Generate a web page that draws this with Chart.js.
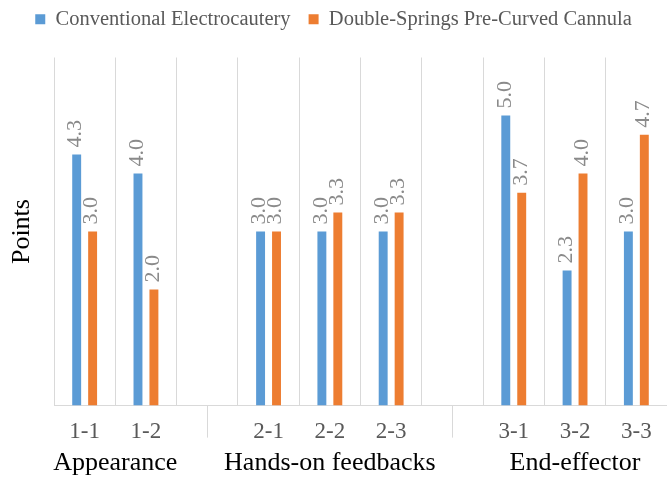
<!DOCTYPE html>
<html>
<head>
<meta charset="utf-8">
<script src="https://cdn.jsdelivr.net/npm/chart.js@4.4.1/dist/chart.umd.min.js"></script>
<style>
  html, body { margin: 0; padding: 0; background: #fff; }
  #wrap { width: 667px; height: 479px; }
</style>
</head>
<body>
<div id="wrap"><canvas id="pointsChart"></canvas></div>
<script>
const categories = ['1-1', '1-2', '', '2-1', '2-2', '2-3', '', '3-1', '3-2', '3-3'];
const conventional = [4.33, 4.0, null, 3.0, 3.0, 3.0, null, 5.0, 2.33, 3.0];
const doubleSprings = [3.0, 2.0, null, 3.0, 3.33, 3.33, null, 3.67, 4.0, 4.67];
const groupNames = ['Appearance', 'Hands-on feedbacks', 'End-effector'];
const groupStart = [0, 3, 7];
const groupEnd = [1, 5, 9];
const groupBreaks = [2, 6];
const yMax = 6;

const serif = "'Liberation Serif', 'Times New Roman', serif";
Chart.defaults.font.family = serif;

// extra room between legend and plot
const legendGap = {
    id: 'legendGap',
    beforeUpdate(chart) {
        const legend = chart.legend;
        if (!legend || legend._gapPatched) return;
        const fit = legend.fit;
        legend.fit = function () {
            fit.call(this);
            this.height += 18;
        };
        legend._gapPatched = true;
    }
};

// rotated value labels above each bar
const valueLabels = {
    id: 'valueLabels',
    afterDatasetsDraw(chart) {
        const ctx = chart.ctx;
        ctx.save();
        ctx.font = '22px ' + serif;
        ctx.fillStyle = '#8a8a8a';
        ctx.textAlign = 'left';
        ctx.textBaseline = 'middle';
        chart.data.datasets.forEach((ds, i) => {
            chart.getDatasetMeta(i).data.forEach((bar, j) => {
                const v = ds.data[j];
                if (v == null) return;
                ctx.save();
                ctx.translate(bar.x - 1, bar.y - 7);
                ctx.rotate(-Math.PI / 2);
                ctx.fillText(v.toFixed(1), 0, 0);
                ctx.restore();
            });
        });
        ctx.restore();
    }
};

// second level of the x axis: group names and separators
const groupAxis = {
    id: 'groupAxis',
    afterDraw(chart) {
        const ctx = chart.ctx;
        const x = chart.scales.x;
        ctx.save();
        ctx.strokeStyle = '#d9d9d9';
        ctx.lineWidth = 1;
        groupBreaks.forEach(b => {
            const px = Math.round(x.getPixelForValue(b)) + 0.5;
            ctx.beginPath();
            ctx.moveTo(px, x.top);
            ctx.lineTo(px, x.top + 32);
            ctx.stroke();
        });
        ctx.font = '26px ' + serif;
        ctx.fillStyle = '#000';
        ctx.textAlign = 'center';
        ctx.textBaseline = 'middle';
        groupNames.forEach((name, g) => {
            const cx = (x.getPixelForValue(groupStart[g]) + x.getPixelForValue(groupEnd[g])) / 2;
            ctx.fillText(name, cx, x.top + 58);
        });
        ctx.restore();
    }
};

const ctx = document.getElementById('pointsChart').getContext('2d');
const pointsChart = new Chart(ctx, {
    type: 'bar',
    data: {
        labels: categories,
        datasets: [{
            label: 'Conventional Electrocautery',
            data: conventional,
            backgroundColor: '#5B9BD5',
            categoryPercentage: 0.52,
            barPercentage: 0.56
        }, {
            label: 'Double-Springs Pre-Curved Cannula',
            data: doubleSprings,
            backgroundColor: '#ED7D31',
            categoryPercentage: 0.52,
            barPercentage: 0.56
        }]
    },
    options: {
        responsive: true,
        maintainAspectRatio: false,
        animation: false,
        layout: {
            padding: { top: -9, left: 0, right: 0, bottom: 21 }
        },
        plugins: {
            legend: {
                position: 'top',
                labels: {
                    boxWidth: 10,
                    boxHeight: 10,
                    padding: 18,
                    color: '#595959',
                    font: { size: 20.5 }
                }
            },
            tooltip: { enabled: false }
        },
        scales: {
            x: {
                offset: true,
                grid: {
                    offset: true,
                    color: '#d9d9d9',
                    drawTicks: false
                },
                border: { display: true, color: '#d9d9d9' },
                ticks: {
                    color: '#595959',
                    font: { size: 23 },
                    padding: 12.4,
                    autoSkip: false,
                    maxRotation: 0
                }
            },
            y: {
                min: 0,
                max: yMax,
                grid: { display: false, drawTicks: false },
                border: { display: false },
                ticks: { display: false },
                title: {
                    display: true,
                    text: 'Points',
                    color: '#000',
                    font: { size: 26 },
                    padding: { top: 6.4, bottom: 16.4 }
                }
            }
        }
    },
    plugins: [legendGap, valueLabels, groupAxis]
});
</script>
</body>
</html>
